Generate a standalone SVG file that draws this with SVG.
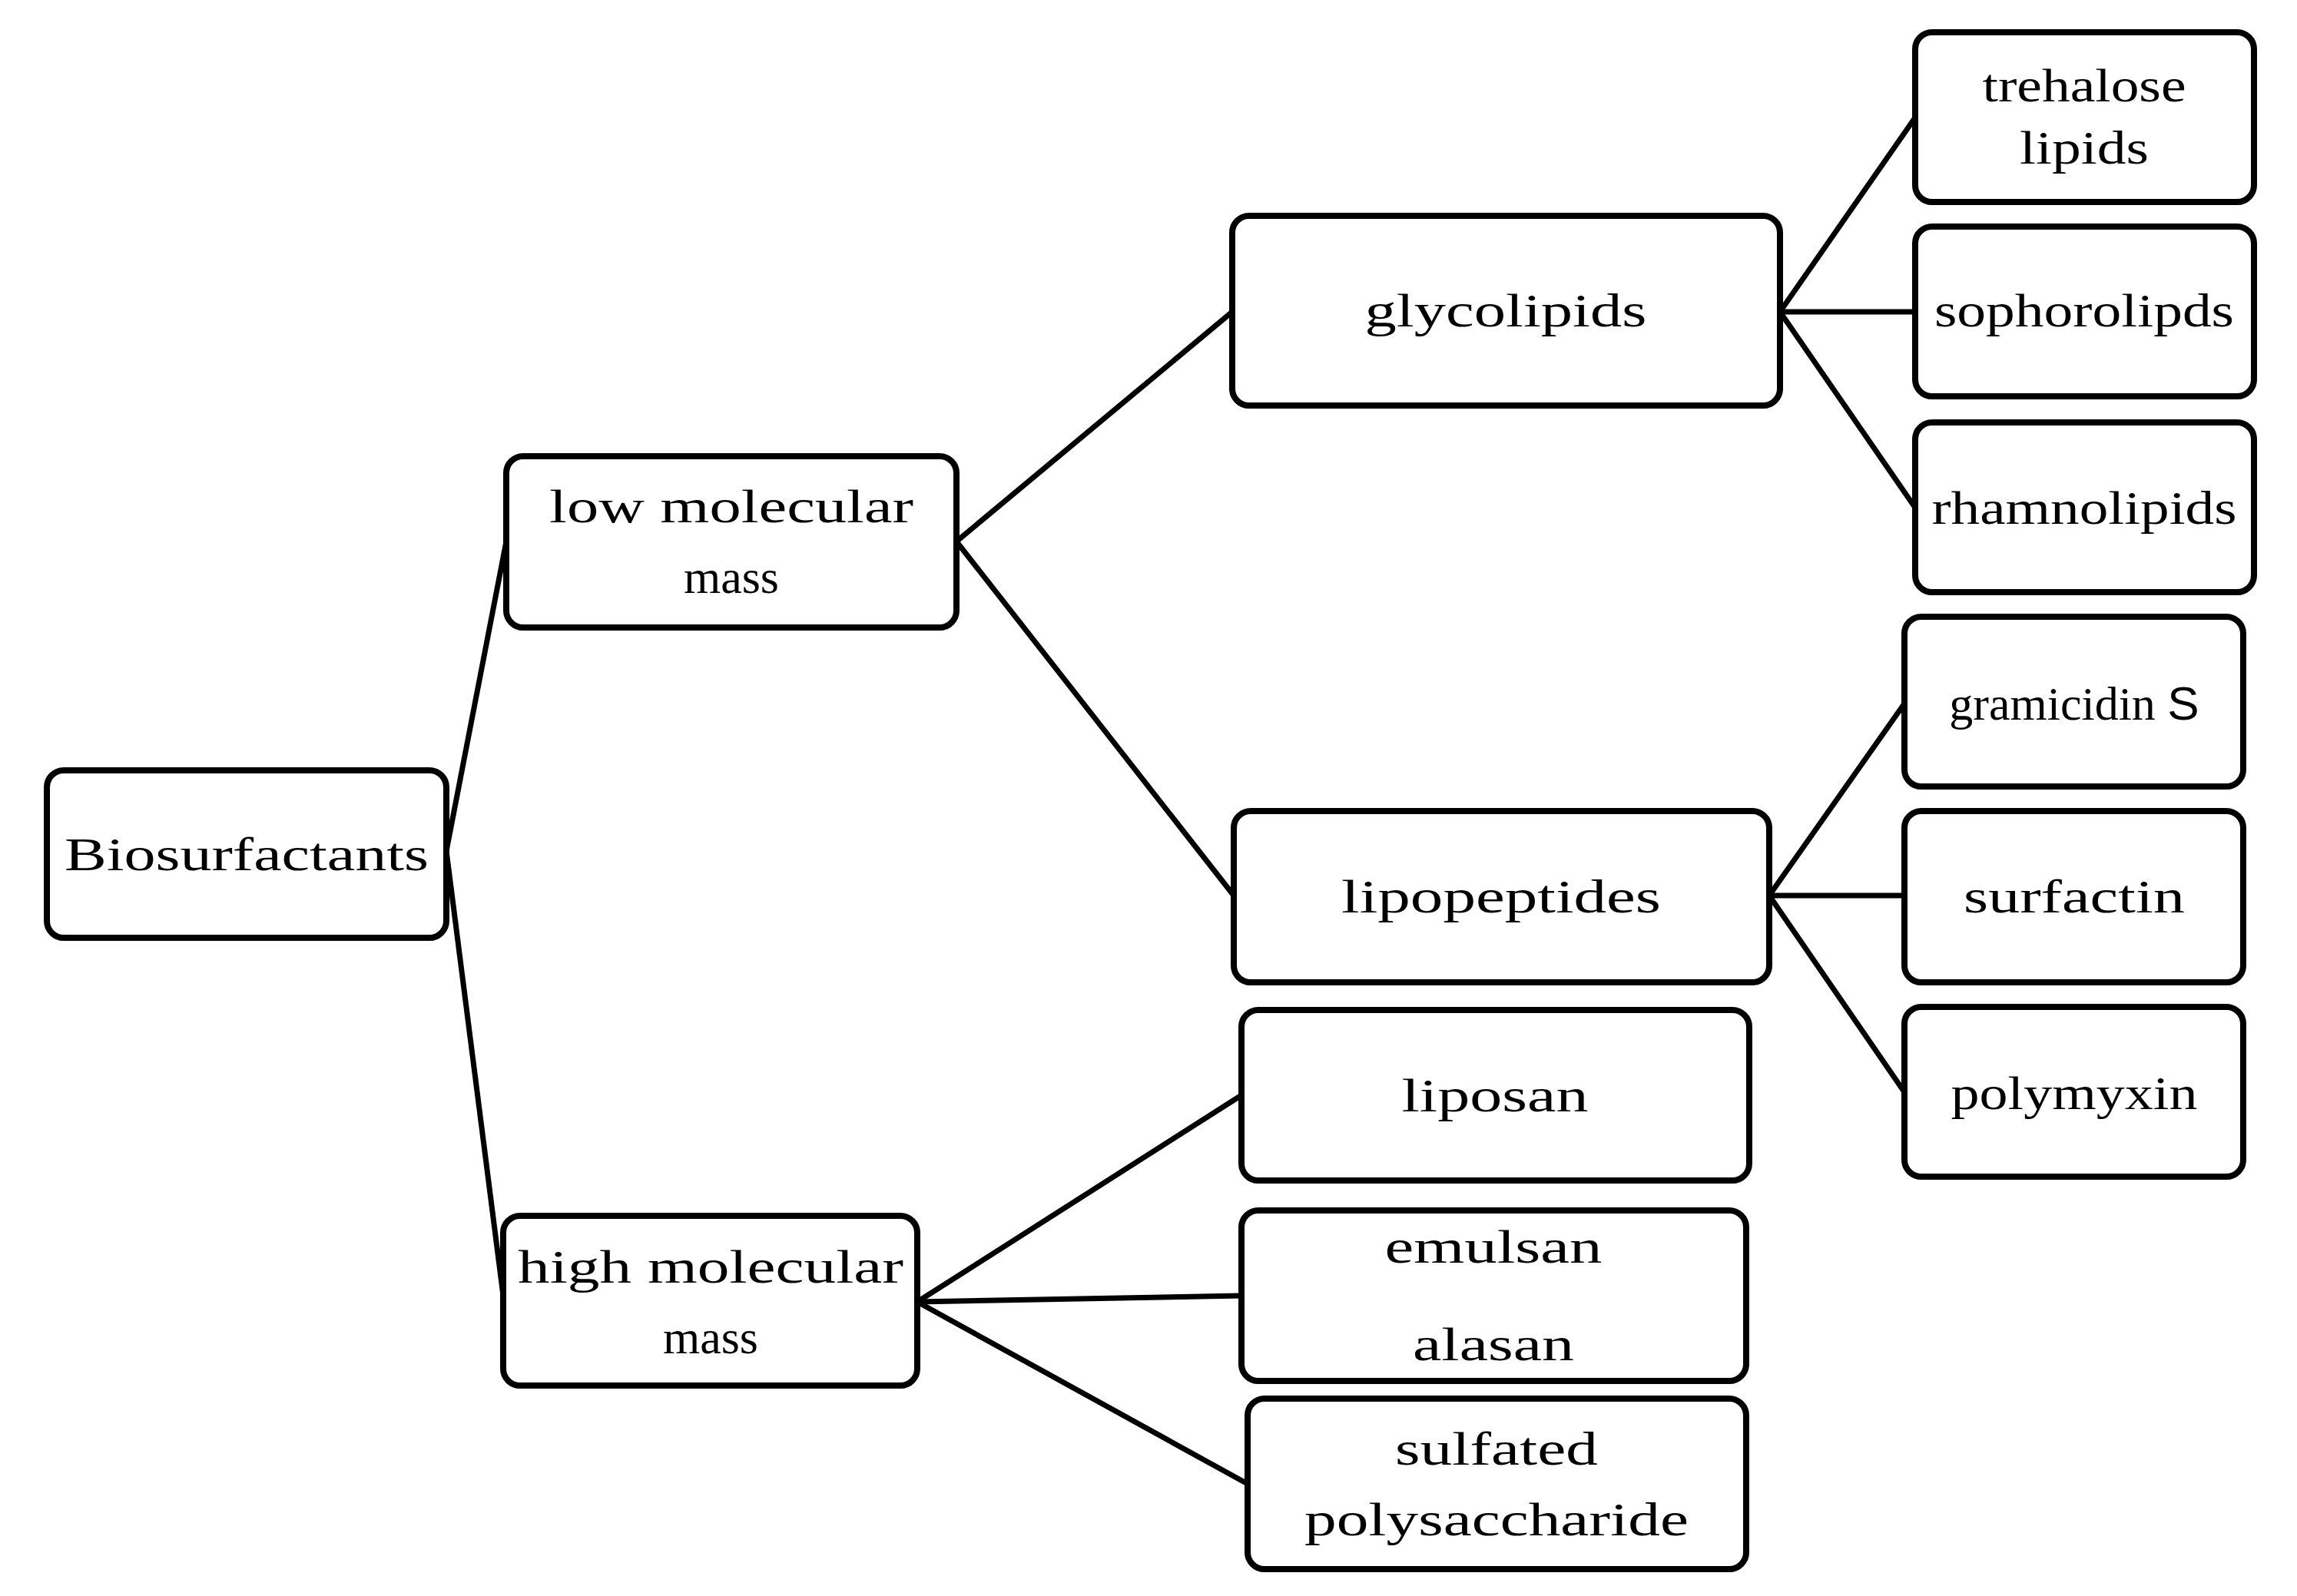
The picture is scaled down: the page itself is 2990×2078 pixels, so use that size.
<svg xmlns="http://www.w3.org/2000/svg" width="2990" height="2078" viewBox="0 0 2990 2078">
<style>
.b{fill:#fff;stroke:#000;stroke-width:8}
.t{font-family:"Liberation Serif",serif;font-size:62px;fill:#000;text-anchor:middle}
.c line{stroke:#000;stroke-width:7}
</style>
<rect width="2990" height="2078" fill="#fff"/>
<g class="c" id="connectors">
<line x1="581" y1="1108" x2="659" y2="705"/>
<line x1="581" y1="1108" x2="655" y2="1687"/>
<line x1="1245" y1="705" x2="1604" y2="406"/>
<line x1="1245" y1="705" x2="1606" y2="1166"/>
<line x1="1194" y1="1695" x2="1616" y2="1426"/>
<line x1="1194" y1="1695" x2="1616" y2="1687"/>
<line x1="1194" y1="1695" x2="1624" y2="1932"/>
<line x1="2317" y1="406" x2="2493" y2="153"/>
<line x1="2317" y1="406" x2="2493" y2="406"/>
<line x1="2317" y1="406" x2="2493" y2="661"/>
<line x1="2303" y1="1166" x2="2479" y2="916"/>
<line x1="2303" y1="1166" x2="2479" y2="1166"/>
<line x1="2303" y1="1166" x2="2479" y2="1422"/>
</g>
<g id="bio"><rect class="b" x="61" y="1003" width="520" height="218" rx="22"/><text class="t" x="321" y="1133" textLength="474" lengthAdjust="spacingAndGlyphs">Biosurfactants</text></g>
<g id="low"><rect class="b" x="659" y="594" width="586" height="223" rx="22"/><text class="t" x="952" y="680" textLength="474" lengthAdjust="spacingAndGlyphs">low molecular</text><text class="t" x="952" y="772">mass</text></g>
<g id="high"><rect class="b" x="655" y="1583" width="539" height="221" rx="22"/><text class="t" x="925" y="1670" textLength="502" lengthAdjust="spacingAndGlyphs">high molecular</text><text class="t" x="925" y="1762">mass</text></g>
<g id="glyco"><rect class="b" x="1604" y="281" width="713" height="247" rx="22"/><text class="t" x="1960" y="425" textLength="367" lengthAdjust="spacingAndGlyphs">glycolipids</text></g>
<g id="lipo"><rect class="b" x="1606" y="1056" width="697" height="223" rx="22"/><text class="t" x="1954" y="1188" textLength="416" lengthAdjust="spacingAndGlyphs">lipopeptides</text></g>
<g id="liposan"><rect class="b" x="1616" y="1315" width="661" height="222" rx="22"/><text class="t" x="1946" y="1447" textLength="243" lengthAdjust="spacingAndGlyphs">liposan</text></g>
<g id="emulsan"><rect class="b" x="1616" y="1576" width="657" height="222" rx="22"/><text class="t" x="1944" y="1644" textLength="283" lengthAdjust="spacingAndGlyphs">emulsan</text><text class="t" x="1944" y="1771" textLength="210" lengthAdjust="spacingAndGlyphs">alasan</text></g>
<g id="sulfated"><rect class="b" x="1624" y="1821" width="649" height="222" rx="22"/><text class="t" x="1948" y="1907" textLength="264" lengthAdjust="spacingAndGlyphs">sulfated</text><text class="t" x="1948" y="1999" textLength="500" lengthAdjust="spacingAndGlyphs">polysaccharide</text></g>
<g id="trehalose"><rect class="b" x="2493" y="42" width="441" height="221" rx="22"/><text class="t" x="2713" y="132" textLength="265" lengthAdjust="spacingAndGlyphs">trehalose</text><text class="t" x="2713" y="213" textLength="168" lengthAdjust="spacingAndGlyphs">lipids</text></g>
<g id="sophoro"><rect class="b" x="2493" y="295" width="441" height="221" rx="22"/><text class="t" x="2713" y="425" textLength="390" lengthAdjust="spacingAndGlyphs">sophorolipds</text></g>
<g id="rhamno"><rect class="b" x="2493" y="550" width="441" height="221" rx="22"/><text class="t" x="2713" y="682" textLength="397" lengthAdjust="spacingAndGlyphs">rhamnolipids</text></g>
<g id="gramicidin"><rect class="b" x="2479" y="803" width="441" height="221" rx="22"/><text class="t" x="2700" y="937"><tspan>gramicidin </tspan><tspan style="font-family:'Liberation Sans',sans-serif">S</tspan></text></g>
<g id="surfactin"><rect class="b" x="2479" y="1056" width="441" height="223" rx="22"/><text class="t" x="2700" y="1188" textLength="288" lengthAdjust="spacingAndGlyphs">surfactin</text></g>
<g id="polymyxin"><rect class="b" x="2479" y="1311" width="441" height="221" rx="22"/><text class="t" x="2700" y="1444" textLength="321" lengthAdjust="spacingAndGlyphs">polymyxin</text></g>
</svg>
